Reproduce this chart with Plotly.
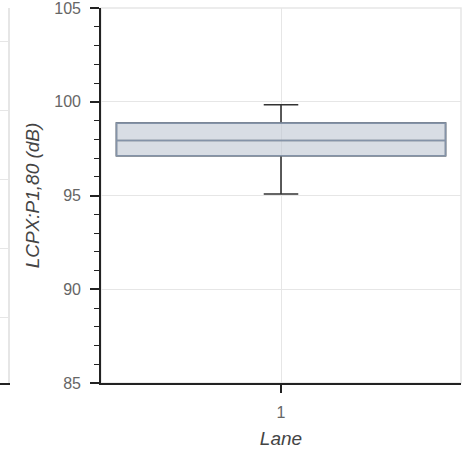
import plotly.graph_objects as go

# ---- data ----
lanes = [1]
q1_vals = [97.12]
median_vals = [97.93]
q3_vals = [98.86]
lower_vals = [95.08]
upper_vals = [99.84]
y_ticks = [85, 90, 95, 100, 105]
x_tick_labels = ["1"]

FONT = "Liberation Sans, Arial, Helvetica, sans-serif"
AXIS_COLOR = "#222222"
GRID_COLOR = "#e6e6e6"
TICK_FONT = dict(family=FONT, size=16, color="#666666")
TITLE_FONT = dict(family=FONT, size=19, color="#444444", style="italic")

fig = go.Figure()

# whiskers (dark)
fig.add_trace(go.Box(
    x=lanes, q1=q1_vals, median=median_vals, q3=q3_vals,
    lowerfence=lower_vals, upperfence=upper_vals,
    width=0.914, whiskerwidth=0.105, boxpoints=False,
    showlegend=False, hoverinfo="skip",
    line=dict(color="#333333", width=1.6), fillcolor="rgba(0,0,0,0)",
))
# box body on top (no whiskers)
fig.add_trace(go.Box(
    x=lanes, q1=q1_vals, median=median_vals, q3=q3_vals,
    lowerfence=q1_vals, upperfence=q3_vals,
    width=0.914, whiskerwidth=0, boxpoints=False,
    showlegend=False, hoverinfo="skip",
    line=dict(color="#8493a8", width=1.6), fillcolor="rgba(190,199,210,0.6)",
))

# placeholder for the cut-off neighbouring panel
fig.add_trace(go.Scatter(x=[], y=[], xaxis="x2", yaxis="y2", showlegend=False))

fig.update_layout(
    width=468, height=453,
    margin=dict(l=0, r=7, t=8, b=70),
    paper_bgcolor="white", plot_bgcolor="white",
    boxmode="overlay",
    xaxis=dict(
        domain=[101 / 461, 1], range=[0.5, 1.5],
        tickvals=lanes, ticktext=x_tick_labels,
        ticks="outside", ticklen=8, tickwidth=1.6, tickcolor=AXIS_COLOR,
        showline=True, linecolor=AXIS_COLOR, linewidth=1.6,
        showgrid=True, gridcolor=GRID_COLOR, gridwidth=1,
        zeroline=False, tickfont=TICK_FONT, ticklabelstandoff=6,
        title=dict(text="Lane", font=TITLE_FONT, standoff=12),
    ),
    yaxis=dict(
        range=[85, 105], tickvals=y_ticks, ticklabeloverflow="allow",
        ticks="outside", ticklen=9, tickwidth=1.6, tickcolor=AXIS_COLOR,
        minor=dict(dtick=1, ticks="outside", ticklen=5, tickwidth=1.3,
                   tickcolor=AXIS_COLOR, showgrid=False),
        showline=True, linecolor=AXIS_COLOR, linewidth=1.6,
        showgrid=True, gridcolor=GRID_COLOR, gridwidth=1,
        zeroline=False, tickfont=TICK_FONT, ticklabelstandoff=6,
        title=dict(text="LCPX:P1,80 (dB)", font=TITLE_FONT, standoff=10),
    ),
    xaxis2=dict(
        domain=[0, 8 / 461], anchor="y2", range=[0, 1],
        showticklabels=False, ticks="", showgrid=False, zeroline=False,
        showline=True, linecolor=AXIS_COLOR, linewidth=1.6,
    ),
    yaxis2=dict(
        domain=[0, 1], anchor="x2", side="right",
        range=[0.058, 5.49], tickvals=[1, 2, 3, 4, 5],
        showticklabels=False, ticks="", showgrid=True,
        gridcolor=GRID_COLOR, gridwidth=1, zeroline=False,
        showline=True, linecolor=GRID_COLOR, linewidth=1.5,
    ),
    shapes=[dict(type="rect", xref="x domain", yref="y domain",
                 x0=0, x1=1, y0=0, y1=1, layer="below",
                 line=dict(color=GRID_COLOR, width=1.5))],
)

fig.write_html("out.html", config={"displayModeBar": False},
               post_script="document.body.style.margin='0';")
